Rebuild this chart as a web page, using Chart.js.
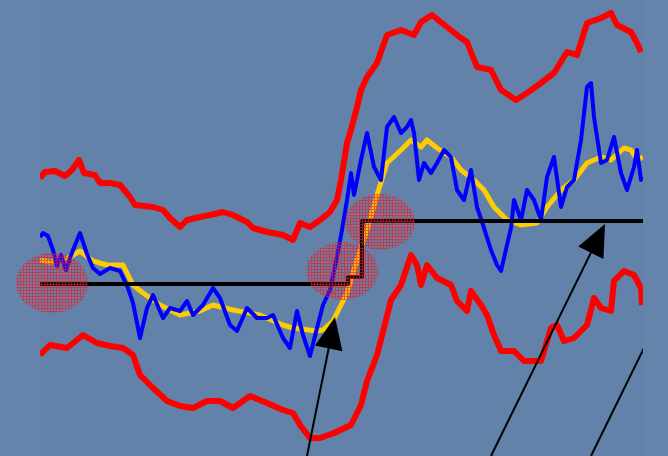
<!DOCTYPE html>
<html>
<head>
<meta charset="utf-8">
<script src="https://cdn.jsdelivr.net/npm/chart.js@4/dist/chart.umd.min.js"></script>
<style>
  html, body { margin: 0; padding: 0; background: #6282aa; }
  #wrap { width: 668px; height: 456px; position: relative; }
</style>
</head>
<body>
<div id="wrap"><canvas id="c" width="668" height="456"></canvas></div>
<script>
// ---- Data (x = time, y = level) ----
const upperBand = [[0,27.8],[0.5,28.4],[1.5,28.5],[2.5,28.0],[3.2,28.6],[3.9,29.6],[4.4,28.3],[5.5,28.1],[6.0,27.3],[7.0,27.3],[8.0,27.1],[9.0,25.9],[9.5,25.1],[11.3,24.9],[12.3,24.6],[13.0,23.8],[14.0,22.9],[14.7,23.6],[16.0,23.9],[17.0,24.1],[18.3,24.4],[19.3,24.1],[20.7,23.4],[21.3,22.8],[22.7,22.4],[24.3,22.1],[25.3,21.6],[26.0,23.3],[27.0,22.9],[28.0,23.6],[29.0,24.4],[29.7,25.6],[30.1,27.6],[30.7,31.3],[31.1,32.6],[31.7,34.9],[32.1,36.6],[32.7,37.9],[33.7,39.3],[34.7,42.1],[36.1,42.6],[37.4,42.1],[38.1,43.4],[39.2,44.1],[40.7,42.9],[42.1,41.8],[42.7,41.4],[43.7,38.9],[45.1,38.6],[46.1,36.6],[47.6,35.6],[48.7,36.3],[50.1,37.3],[51.4,38.3],[52.7,40.4],[53.7,40.1],[54.7,43.3],[56.1,43.8],[57.1,44.3],[57.7,43.1],[59.1,42.4],[59.7,41.3],[60.1,40.4]];

const lowerBand = [[0,10.1],[1.0,11.1],[2.7,10.8],[4.3,12.1],[5.7,11.3],[7.0,11.0],[8.3,10.8],[9.3,10.1],[10.0,8.1],[11.3,6.8],[12.7,5.5],[14.0,5.0],[15.3,4.8],[16.7,5.5],[18.0,5.5],[19.3,4.8],[21.0,6.0],[22.7,5.3],[24.3,4.6],[25.3,4.3],[26.0,3.1],[27.0,1.8],[28.0,1.8],[29.4,2.3],[31.1,3.1],[32.1,5.1],[32.7,7.5],[33.7,10.1],[34.4,12.8],[35.1,15.6],[36.1,17.1],[37.1,20.1],[37.7,19.1],[38.1,17.1],[38.7,19.1],[39.7,17.8],[41.1,17.1],[41.7,15.5],[42.7,14.5],[43.1,16.5],[44.1,15.1],[44.7,14.1],[45.4,12.1],[46.1,10.5],[47.4,10.5],[48.4,9.5],[50.1,9.5],[51.1,12.8],[51.7,13.1],[52.4,11.5],[53.4,11.8],[54.7,13.1],[55.4,15.8],[56.1,14.8],[57.1,14.5],[57.4,17.5],[58.4,18.5],[59.4,18.1],[60.1,16.8],[60.2,15.1]];

const movingAvg = [[0,19.6],[1.0,19.4],[2.5,19.6],[4.0,20.5],[5.3,19.5],[6.7,19.1],[8.3,19.1],[9.3,17.1],[10.3,16.3],[12.0,15.1],[14.0,14.1],[16.0,14.5],[17.3,15.1],[19.3,14.6],[22.0,14.1],[24.3,13.1],[25.3,12.8],[27.7,12.5],[28.3,12.6],[29.3,13.5],[29.7,14.3],[30.7,16.3],[31.7,19.6],[32.7,22.6],[33.7,26.1],[34.7,29.3],[36.1,30.6],[37.1,31.6],[38.1,30.9],[38.7,31.6],[39.7,30.8],[41.1,29.9],[42.1,28.6],[43.4,27.6],[44.4,26.6],[45.4,24.9],[46.7,23.6],[48.1,23.1],[49.7,23.3],[50.7,24.9],[52.1,26.6],[53.4,27.6],[54.7,29.3],[56.1,29.9],[57.1,29.6],[58.4,30.8],[59.1,30.6],[59.7,29.6],[60.3,29.9]];

const price = [[0,21.9],[0.3,22.3],[0.8,22.0],[1.3,20.6],[1.7,19.0],[2.1,20.1],[2.6,18.6],[3.0,19.8],[3.3,20.6],[4.0,22.3],[4.7,20.2],[5.3,18.8],[6.0,18.2],[7.0,18.8],[8.0,18.5],[8.8,16.8],[9.3,15.3],[10.0,11.8],[10.7,14.8],[11.3,16.1],[12.3,13.8],[13.0,14.8],[14.0,14.5],[14.7,15.5],[15.3,14.1],[16.3,15.1],[17.3,16.8],[18.0,15.8],[19.0,13.1],[19.7,12.5],[20.7,14.8],[21.7,13.8],[22.7,13.8],[23.3,14.1],[24.3,11.8],[25.0,10.8],[25.7,14.5],[26.3,12.1],[27.0,10.0],[27.7,12.8],[28.3,15.1],[29.0,16.6],[29.7,19.9],[30.2,22.6],[30.7,25.6],[31.0,27.6],[31.1,28.3],[31.4,26.1],[32.1,29.6],[32.7,32.3],[33.4,28.9],[34.1,27.6],[34.7,32.9],[35.4,33.9],[36.1,32.3],[36.7,32.9],[37.1,33.6],[37.4,32.3],[37.9,27.6],[38.4,29.3],[39.1,28.3],[39.7,29.3],[40.4,30.6],[41.1,29.9],[41.7,26.6],[42.4,25.6],[43.1,28.6],[43.7,24.9],[44.4,22.8],[45.1,20.6],[45.7,19.1],[46.1,18.5],[46.7,21.1],[47.1,22.8],[47.4,25.6],[48.1,23.6],[48.7,26.6],[49.4,25.6],[50.1,23.6],[50.7,27.9],[51.4,29.9],[52.1,24.9],[52.7,26.9],[53.4,27.6],[54.1,31.6],[54.7,36.9],[55.1,37.3],[55.4,33.9],[56.1,29.3],[56.7,29.6],[57.4,31.9],[58.1,28.3],[58.7,26.6],[59.4,28.9],[59.7,30.6],[60.1,27.6],[60.3,27.9]];

// regime level (step line)
const regime = [[0,17.2],[30.8,17.9],[32.2,23.5],[60.3,23.5]];

// highlighted zones: [centerX, centerY, radiusX, radiusY]
const zones = [[1.2,17.3,3.6,3.0],[30.2,18.5,3.6,2.9],[34.0,23.4,3.5,2.8]];

// arrows: [tailX, tailY, tipX, tipY]
const arrows = [[26.7,0,29.5,13.9],[45.1,0,56.5,23.2],[55.1,0,65.0,20.2]];

const toPts = a => a.map(p => ({x: p[0], y: p[1]}));

function hatchPattern(ctx) {
  const pc = document.createElement('canvas');
  pc.width = 3; pc.height = 3;
  const g = pc.getContext('2d');
  g.fillStyle = 'rgba(200,90,110,0.12)';
  g.fillRect(0,0,3,3);
  g.fillStyle = 'rgba(235,25,35,0.6)';
  g.fillRect(2,0,1,3);
  g.fillRect(0,2,2,1);
  return ctx.createPattern(pc, 'repeat');
}

const bgPlugin = {
  id: 'bg',
  beforeDraw(chart) {
    const ctx = chart.ctx;
    ctx.save();
    ctx.fillStyle = '#6282aa';
    ctx.fillRect(0, 0, chart.width, chart.height);
    const ca = chart.chartArea;
    ctx.fillStyle = 'rgba(255,255,255,0.025)';
    ctx.fillRect(0, 0, ca.left, chart.height);
    ctx.fillRect(ca.right, 0, chart.width - ca.right, chart.height);
    ctx.restore();
  }
};

const overlayPlugin = {
  id: 'overlay',
  afterDatasetsDraw(chart) {
    const ctx = chart.ctx;
    const xs = chart.scales.x, ys = chart.scales.y;
    const ca = chart.chartArea;
    ctx.save();
    // zones
    const pat = hatchPattern(ctx);
    zones.forEach(z => {
      const cx = xs.getPixelForValue(z[0]);
      const cy = ys.getPixelForValue(z[1]);
      const rx = Math.abs(xs.getPixelForValue(z[0] + z[2]) - cx);
      const ry = Math.abs(ys.getPixelForValue(z[1] + z[3]) - cy);
      ctx.beginPath();
      ctx.ellipse(cx, cy, rx, ry, 0, 0, Math.PI * 2);
      ctx.fillStyle = pat;
      ctx.fill();
    });
    // arrows
    ctx.beginPath();
    ctx.rect(0, 0, ca.right, chart.height);
    ctx.clip();
    arrows.forEach(a => {
      const x0 = xs.getPixelForValue(a[0]), y0 = ys.getPixelForValue(a[1]);
      const x1 = xs.getPixelForValue(a[2]), y1 = ys.getPixelForValue(a[3]);
      const dx = x1 - x0, dy = y1 - y0, L = Math.hypot(dx, dy);
      const ux = dx / L, uy = dy / L;
      const hl = 32, hw = 14;
      const bx = x1 - ux * hl, by = y1 - uy * hl;
      ctx.strokeStyle = '#000';
      ctx.lineWidth = 2;
      ctx.beginPath();
      ctx.moveTo(x0, y0);
      ctx.lineTo(bx + ux * 4, by + uy * 4);
      ctx.stroke();
      ctx.fillStyle = '#000';
      ctx.beginPath();
      ctx.moveTo(x1, y1);
      ctx.lineTo(bx - uy * hw, by + ux * hw);
      ctx.lineTo(bx + uy * hw, by - ux * hw);
      ctx.closePath();
      ctx.fill();
    });
    ctx.restore();
  }
};

new Chart(document.getElementById('c'), {
  type: 'line',
  data: {
    datasets: [
      { label: 'Regime', data: toPts(regime), borderColor: '#000000', borderWidth: 4, stepped: 'before', order: 1 },
      { label: 'Price', data: toPts(price), borderColor: '#0000ff', borderWidth: 4, order: 2 },
      { label: 'Average', data: toPts(movingAvg), borderColor: '#ffcc00', borderWidth: 5, order: 3 },
      { label: 'Upper', data: toPts(upperBand), borderColor: '#ff0000', borderWidth: 6, order: 4 },
      { label: 'Lower', data: toPts(lowerBand), borderColor: '#ff0000', borderWidth: 6, order: 5 }
    ]
  },
  options: {
    responsive: false,
    animation: false,
    layout: { padding: { left: 40, right: 25, top: 0, bottom: 0 } },
    elements: { point: { radius: 0 }, line: { tension: 0, fill: false, borderJoinStyle: 'round' } },
    plugins: { legend: { display: false }, tooltip: { enabled: false } },
    scales: {
      x: { type: 'linear', min: 0, max: 60.3, display: false },
      y: { type: 'linear', min: 0, max: 45.6, display: false }
    }
  },
  plugins: [bgPlugin, overlayPlugin]
});
</script>
</body>
</html>
